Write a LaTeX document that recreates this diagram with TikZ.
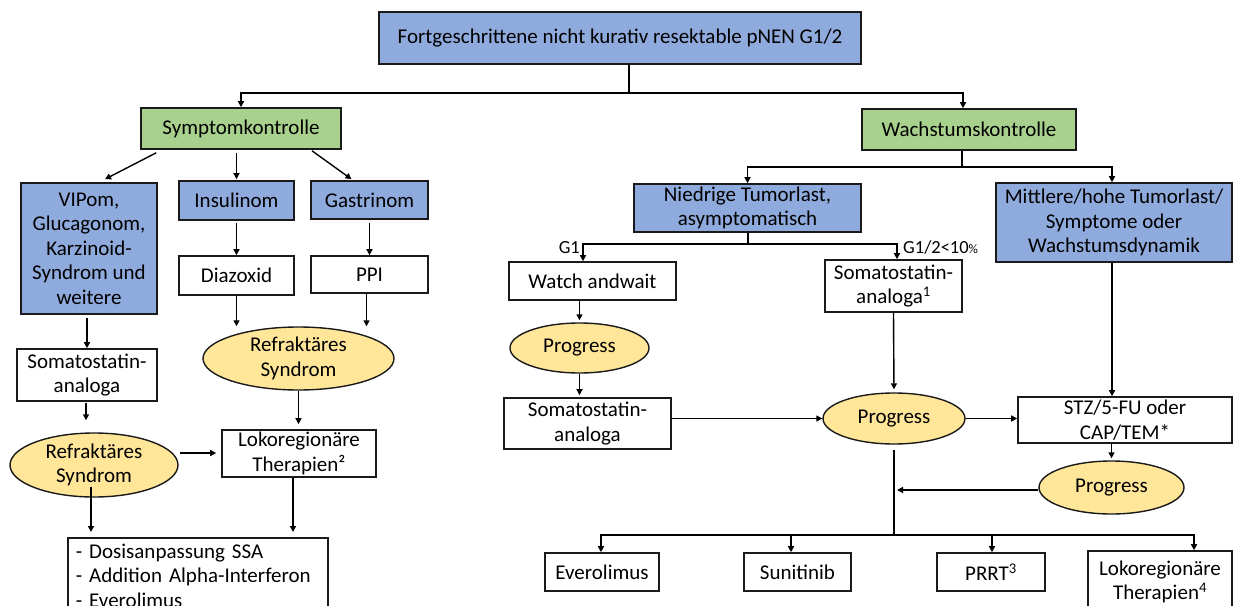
\documentclass[tikz,border=0pt]{standalone}
\usepackage{fontspec}
\setmainfont{Carlito}
\usetikzlibrary{arrows.meta,shapes.geometric}
\definecolor{bluefill}{HTML}{8FAADC}
\definecolor{greenfill}{HTML}{A9D18E}
\definecolor{yellowfill}{HTML}{FFE699}
\definecolor{edgecol}{HTML}{1A1A1A}
\begin{document}
\begin{tikzpicture}[x=1pt,y=-1pt,
  box/.style={draw=edgecol, line width=1.6pt, rectangle, inner sep=0pt, align=center, font=\fontsize{21}{24.5}\selectfont},
  bluebox/.style={box, fill=bluefill},
  greenbox/.style={box, fill=greenfill},
  whitebox/.style={box, fill=white},
  oval/.style={draw=edgecol, line width=1.4pt, ellipse, inner sep=0pt, fill=yellowfill, align=center, font=\fontsize{21}{24.5}\selectfont},
  arr/.style={line width=1.4pt, -{Triangle[length=6pt,width=6pt]}},
  ln/.style={line width=1.4pt},
  lbl/.style={font=\fontsize{18.5}{20}\selectfont, inner sep=0pt}
]
\useasboundingbox (0,0) rectangle (1234,605);
\fill[white] (0,0) rectangle (1234,605);
\clip (0,0) rectangle (1234,605);

% nodes
\node[bluebox, minimum width=482pt, minimum height=52pt] (top) at (620,38) {Fortgeschrittene nicht kurativ resektable pNEN G1/2};
\node[greenbox, minimum width=200pt, minimum height=41pt] (sym) at (241,128.5) {Symptomkontrolle};
\node[greenbox, minimum width=214pt, minimum height=41pt] (wachs) at (969,129.5) {Wachstumskontrolle};

\node[bluebox, minimum width=136pt, minimum height=131pt] (vip) at (89,248.5) {VIPom,\\Glucagonom,\\Karzinoid-\\Syndrom und\\weitere};
\node[bluebox, minimum width=115pt, minimum height=39pt] (ins) at (236.5,200.5) {Insulinom};
\node[bluebox, minimum width=117pt, minimum height=38pt] (gas) at (369.5,200) {Gastrinom};
\node[whitebox, minimum width=115pt, minimum height=39pt] (dia) at (236.5,275.5) {Diazoxid};
\node[whitebox, minimum width=117pt, minimum height=37pt] (ppi) at (369.5,274.5) {PPI};
\node[whitebox, minimum width=140pt, minimum height=52pt] (ssaL) at (87,375) {Somatostatin-\\analoga};
\node[oval, minimum width=168pt, minimum height=64pt] (refL) at (94,465) {Refraktäres\\Syndrom};
\node[oval, minimum width=191pt, minimum height=63pt] (refM) at (298.5,358.5) {Refraktäres\\Syndrom};
\node[whitebox, minimum width=154pt, minimum height=47pt] (lok2) at (299,453.5) {Lokoregionäre\\Therapien²};
\node[whitebox, anchor=north west, minimum width=260pt, minimum height=76pt, text width=244pt, inner xsep=8pt, align=left] (list) at (67,537) {- Dosisanpassung SSA\\- Addition Alpha-Interferon\\- Everolimus};

\node[bluebox, minimum width=227pt, minimum height=48pt] (niedrig) at (747.5,208) {Niedrige Tumorlast,\\asymptomatisch};
\node[bluebox, minimum width=236pt, minimum height=79pt] (mittl) at (1114,222.5) {Mittlere/hohe Tumorlast/\\Symptome oder\\Wachstumsdynamik};
\node[whitebox, minimum width=167pt, minimum height=38pt] (watch) at (592.5,281) {Watch andwait};
\node[whitebox, minimum width=137pt, minimum height=52pt] (ssa1) at (893.5,286) {Somatostatin-\\analoga\textsuperscript{1}};
\node[oval, minimum width=139pt, minimum height=50pt] (prog1) at (579.5,348) {Progress};
\node[whitebox, minimum width=167pt, minimum height=51pt] (ssa2) at (587.5,423.5) {Somatostatin-\\analoga};
\node[oval, minimum width=142pt, minimum height=51pt] (prog2) at (894,418.5) {Progress};
\node[whitebox, minimum width=214pt, minimum height=46pt] (stz) at (1125,420) {STZ/5-FU oder\\CAP/TEM*};
\node[oval, minimum width=145pt, minimum height=53pt] (prog3) at (1111.5,487.5) {Progress};
\node[whitebox, minimum width=114pt, minimum height=38pt] (evero) at (602,572) {Everolimus};
\node[whitebox, minimum width=107pt, minimum height=38pt] (suni) at (797.5,572) {Sunitinib};
\node[whitebox, minimum width=108pt, minimum height=38pt] (prrt) at (991,572) {PRRT\textsuperscript{3}};
\node[whitebox, minimum width=144pt, minimum height=62pt] (lok4) at (1160,582) {Lokoregionäre\\Therapien\textsuperscript{4}};

\node[lbl, anchor=east] (g1) at (580,248) {G1};
\node[lbl, anchor=west] (g2) at (903,247) {G1/2<10{\fontsize{13}{14}\selectfont\%}};

% connectors left
\coordinate (s1) at (629,93);
\draw[ln] ([xshift=9pt]top.south) -- (s1);
\draw[arr] (s1) -| (sym.north);
\draw[arr] (s1) -| ([xshift=-6pt]wachs.north);
\draw[arr] ([xshift=16pt,yshift=-3pt]sym.south west) -- ([xshift=16pt,yshift=3pt]vip.north);
\draw[arr, shorten <=3pt, shorten >=1pt] (ins.north |- sym.south) -- (ins.north);
\draw[arr] ([xshift=71pt,yshift=-1pt]sym.south) -- ([xshift=-18pt,yshift=1pt]gas.north);
\draw[arr, shorten <=2pt] (ins.south) -- (dia.north);
\draw[arr, shorten <=3pt] (gas.south) -- (ppi.north);
\draw[arr] (dia.south) -- (dia.south |- refM.north);
\draw[arr] ([xshift=-3pt]ppi.south) -- ([xshift=-3pt]ppi.south |- refM.north);
\draw[arr, shorten >=5pt] (refM.south) -- (refM.south |- lok2.north);
\draw[arr, shorten >=5pt] ([xshift=-6pt]lok2.south) -- ([xshift=-6pt]lok2.south |- list.north);
\draw[arr, shorten <=3pt] (ssaL.north |- vip.south) -- (ssaL.north);
\draw[arr, shorten <=1pt, shorten >=12pt] ([xshift=-1pt]ssaL.south) -- ([xshift=-1pt]ssaL.south |- refL.north);
\draw[arr, shorten <=1pt, shorten >=5pt] ([yshift=12pt]refL.east) -- ([yshift=12pt]refL.east -| lok2.west);
\draw[arr, shorten >=5pt] ([xshift=-3pt,yshift=-22pt]refL.center) -- ([xshift=-3pt]refL.center |- list.north);

% connectors right
\coordinate (s2) at (962,167);
\draw[ln] (s2 |- wachs.south) -- (s2);
\draw[arr] (s2) -| (niedrig.north);
\draw[arr] (s2) -| ([xshift=-2pt]mittl.north);
\coordinate (s3) at (748,244);
\draw[ln] (s3 |- niedrig.south) -- (s3);
\draw[arr] (s3) -| ([xshift=-9.5pt]watch.north);
\draw[arr] (s3) -| ([xshift=3.5pt]ssa1.north);
\draw[arr, shorten >=2pt] (prog1.north |- watch.south) -- (prog1.north);
\draw[arr, shorten >=2pt] (prog1.south) -- (prog1.south |- ssa2.north);
\draw[arr] (prog2.west -| ssa2.east) -- (prog2.west);
\draw[arr, shorten >=3pt] (ssa1.south) -- (prog2.north);
\draw[arr] ([xshift=-2pt]mittl.south) -- ([xshift=-2pt]mittl.south |- stz.north);
\draw[arr] (prog2.east) -- (prog2.east -| stz.west);
\draw[arr, shorten >=2pt] (prog3.north |- stz.south) -- (prog3.north);
\coordinate (bus) at (894,535);
\draw[ln, shorten <=5pt] (prog2.south) -- (bus);
\draw[arr, shorten >=3pt] ([yshift=-2.5pt]prog3.west) -- ([yshift=-2.5pt]prog3.west -| bus);
\draw[arr] (bus) -| ([xshift=-1pt]evero.north);
\draw[arr] (bus) -| ([xshift=-6.5pt]suni.north);
\draw[arr] (bus) -| ([xshift=1pt]prrt.north);
\draw[arr] (bus) -| ([xshift=34pt]lok4.north);
\end{tikzpicture}
\end{document}
